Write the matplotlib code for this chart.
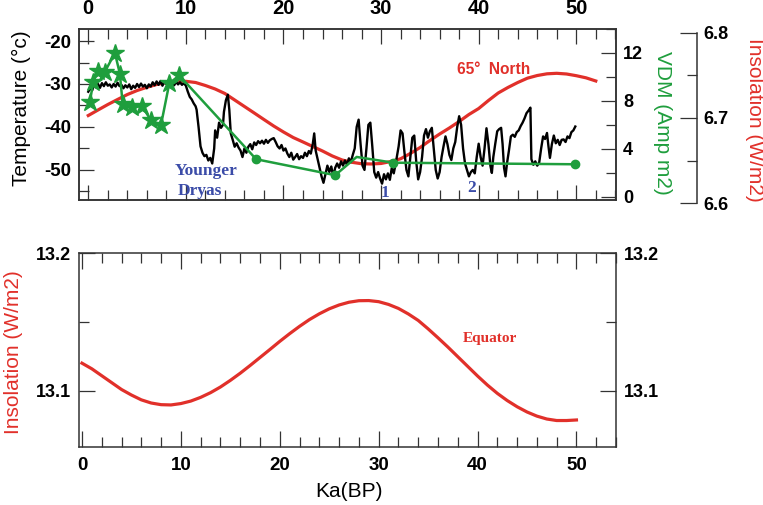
import matplotlib
matplotlib.use("Agg")
import matplotlib.pyplot as plt
import numpy as np

plt.rcParams["font.family"] = ["Liberation Sans", "DejaVu Sans"]
plt.rcParams["axes.unicode_minus"] = False

# ---- data -------------------------------------------------------------------
# ice-core temperature (ka BP, deg C)
temp_age = [
    0.0, 0.2, 0.4, 0.6, 0.8, 1.0, 1.2, 1.4, 1.6, 1.8, 2.0, 2.2, 2.4, 2.6, 2.8,
    3.0, 3.2, 3.4, 3.6, 3.8, 4.0, 4.2, 4.4, 4.6, 4.8, 5.0, 5.2, 5.4, 5.6, 5.8,
    6.0, 6.2, 6.4, 6.6, 6.8, 7.0, 7.2, 7.4, 7.6, 7.8, 8.0, 8.2, 8.4, 8.6, 8.8,
    9.0, 9.2, 9.4, 9.6, 9.8, 10.0, 10.2, 10.4, 10.6, 10.8, 11.0, 11.1, 11.3,
    11.5, 11.7, 11.9, 12.1, 12.3, 12.5, 12.7, 12.9, 13.0, 13.2, 13.4, 13.6,
    13.8, 13.9, 14.1, 14.3, 14.45, 14.6, 14.8, 15.0, 15.2, 15.4, 15.6, 15.8,
    16.0, 16.2, 16.4, 16.6, 16.8, 17.0, 17.2, 17.4, 17.6, 17.8, 18.0, 18.2,
    18.4, 18.6, 18.8, 19.0, 19.2, 19.4, 19.6, 19.8, 20.0, 20.2, 20.4, 20.6,
    20.8, 21.0, 21.2, 21.4, 21.6, 21.8, 22.0, 22.2, 22.4, 22.6, 22.8, 23.0,
    23.15, 23.3, 23.5, 23.7, 23.9, 24.1, 24.3, 24.5, 24.7, 24.9, 25.1, 25.3,
    25.5, 25.7, 25.9, 26.1, 26.3, 26.5, 26.7, 26.9, 27.1, 27.3, 27.5, 27.7,
    27.9, 28.1, 28.3, 28.5, 28.7, 28.9, 29.1, 29.3, 29.5, 29.7, 29.9, 30.1,
    30.3, 30.5, 30.7, 30.9, 31.1, 31.3, 31.5, 31.8, 32.0, 32.2, 32.4, 32.6,
    32.8, 33.0, 33.2, 33.4, 33.6, 33.8, 34.0, 34.2, 34.4, 34.6, 34.8, 35.0,
    35.2, 35.4, 35.6, 35.8, 36.0, 36.2, 36.4, 36.6, 36.8, 37.0, 37.2, 37.4,
    37.6, 37.8, 38.0, 38.2, 38.4, 38.6, 38.8, 39.0, 39.2, 39.4, 39.6, 39.8,
    40.0, 40.2, 40.4, 40.6, 40.8, 41.0, 41.2, 41.35, 41.5, 41.7, 41.9, 42.1,
    42.3, 42.45, 42.6, 42.75, 42.9, 43.1, 43.3, 43.5, 43.7, 43.9, 44.1, 44.3,
    44.5, 44.7, 44.9, 45.1, 45.3, 45.4, 45.6, 45.8, 46.0, 46.2, 46.4, 46.6,
    46.8, 47.0, 47.15, 47.3, 47.5, 47.7, 47.9, 48.1, 48.3, 48.5, 48.7, 48.9,
    49.1, 49.3, 49.5, 49.7, 49.9,
]
temp_val = [
    -31.8, -31.0, -31.5, -30.2, -30.8, -30.0, -30.9, -29.8, -30.5, -29.6,
    -30.4, -30.1, -30.8, -30.0, -30.6, -29.7, -30.5, -30.2, -31.0, -30.3,
    -30.8, -30.1, -31.2, -30.4, -30.9, -30.0, -30.7, -29.9, -30.6, -30.2,
    -31.0, -30.1, -30.6, -29.6, -30.3, -29.4, -30.2, -29.3, -30.4, -29.5,
    -30.0, -29.2, -30.1, -29.6, -30.3, -29.5, -30.1, -29.6, -30.2, -29.8,
    -30.4, -31.8, -33.0, -33.6, -34.5, -35.2, -36.0, -40.0, -44.5, -46.0,
    -46.8, -46.5, -47.8, -47.2, -48.5, -45.0, -40.8, -42.5, -39.0, -40.2,
    -39.5, -36.5, -33.8, -32.5, -36.0, -41.5, -43.0, -44.6, -43.8, -44.8,
    -45.5, -47.0, -45.0, -46.0, -44.6, -44.0, -45.2, -43.6, -44.2, -43.3,
    -43.8, -43.2, -43.9, -43.0, -43.7, -43.1, -42.8, -42.6, -43.5, -44.5,
    -45.0, -44.2, -45.5, -45.0, -46.2, -47.0, -46.0, -47.6, -47.0, -46.3,
    -47.5, -46.8, -47.2, -46.0, -46.8, -45.6, -46.2, -44.0, -41.5, -45.5,
    -47.5, -49.5, -51.5, -53.0, -51.0, -49.0, -50.5, -49.2, -51.5, -49.5,
    -48.5, -49.5, -48.0, -49.0, -47.8, -48.8, -47.3, -48.2, -46.5, -45.0,
    -40.0, -38.3, -44.0, -49.0, -50.0, -45.0, -39.5, -39.0, -44.5, -50.5,
    -51.8, -50.5, -52.0, -53.2, -51.0, -52.2, -50.8, -52.3, -49.5, -50.8,
    -48.5, -44.5, -40.8, -41.5, -46.0, -50.0, -51.5, -47.0, -42.5, -42.0,
    -48.0, -52.2, -50.5, -47.0, -42.0, -40.5, -42.5, -41.0, -40.2, -45.0,
    -50.0, -52.0, -50.5, -47.0, -44.5, -42.2, -44.0, -46.5, -47.7, -45.0,
    -43.5, -40.0, -37.5, -39.5, -45.0, -48.5, -50.0, -51.5, -50.5, -50.0,
    -50.8, -47.0, -43.9, -47.0, -49.0, -45.0, -40.3, -44.0, -49.0, -50.7,
    -47.0, -43.9, -41.0, -40.5, -40.2, -44.0, -49.5, -51.5, -48.5, -45.5,
    -42.2, -41.8, -42.3, -41.2, -40.8, -39.8, -39.0, -38.0, -36.8, -36.2,
    -35.5, -47.5, -48.8, -48.0, -49.0, -48.3, -45.0, -42.2, -42.8, -41.4,
    -44.5, -47.2, -44.0, -42.0, -43.8, -43.0, -44.2, -43.0, -42.9, -43.5,
    -42.2, -42.6, -41.2, -40.8, -39.9,
]

# virtual dipole moment: recent stars, older circles
vdm_star_age = [0.17, 0.51, 1.02, 1.71, 2.73, 3.24, 3.52, 4.45, 5.47, 6.42, 7.45, 8.3, 9.32]
vdm_star_val = [7.94, 9.6, 10.53, 10.45, 12.0, 10.26, 7.78, 7.46, 7.6, 6.4, 6.0, 9.46, 10.13]
vdm_dot_age = [17.2, 25.3, 27.5, 31.25, 49.87]
vdm_dot_val = [3.14, 1.81, 3.33, 2.85, 2.72]

# summer insolation at 65 N
ins65_age = list(range(0, 53))
ins65_val = [
    6.7029, 6.7094, 6.7158, 6.7217, 6.7275, 6.7322, 6.7360, 6.7393, 6.7416,
    6.7430, 6.7430, 6.7416, 6.7381, 6.7340, 6.7287, 6.7211, 6.7135, 6.7059,
    6.6982, 6.6906, 6.6836, 6.6771, 6.6719, 6.6666, 6.6613, 6.6555, 6.6508,
    6.6481, 6.6464, 6.6461, 6.6467, 6.6490, 6.6522, 6.6584, 6.6654, 6.6736,
    6.6812, 6.6883, 6.6959, 6.7041, 6.7111, 6.7205, 6.7293, 6.7358, 6.7416,
    6.7467, 6.7498, 6.7518, 6.7524, 6.7516, 6.7496, 6.7471, 6.7434,
]

# insolation at the equator
inseq_age = list(range(0, 51))
inseq_val = [
    13.1201, 13.1160, 13.1110, 13.1060, 13.1010, 13.0970, 13.0935, 13.0912,
    13.0900, 13.0898, 13.0908, 13.0926, 13.0953, 13.0987, 13.1028, 13.1076,
    13.1128, 13.1184, 13.1242, 13.1300, 13.1359, 13.1415, 13.1468, 13.1517,
    13.1559, 13.1595, 13.1623, 13.1643, 13.1654, 13.1655, 13.1647, 13.1627,
    13.1598, 13.1558, 13.1511, 13.1450, 13.1385, 13.1318, 13.1248, 13.1178,
    13.1108, 13.1042, 13.0982, 13.0930, 13.0885, 13.0847, 13.0817, 13.0796,
    13.0785, 13.0785, 13.0789,
]

age_ticks = [0, 10, 20, 30, 40, 50]
temp_ticks = [-50, -40, -30, -20]
vdm_ticks = [0, 4, 8, 12]
ins65_ticks = [6.6, 6.7, 6.8]
inseq_ticks = [13.1, 13.2]

# ---- styling ----------------------------------------------------------------
RED = "#e1302a"
GREEN = "#1f9e3d"
BLUE = "#3b4ca8"
SPINE = "#333333"
W, H = 763, 505

SERIF = "Liberation Serif"


def tick_font(size):
    return dict(fontsize=size, fontweight="bold")


def px_box(left, top, right, bottom):
    return [left / W, 1 - bottom / H, (right - left) / W, (bottom - top) / H]


def style_spines(a):
    for s in a.spines.values():
        s.set_color(SPINE)
        s.set_linewidth(1.1)


def tick_len(a, major, minor):
    a.tick_params(which="major", length=major, width=0.9, color=SPINE)
    a.tick_params(which="minor", length=minor, width=0.9, color=SPINE)


fig = plt.figure(figsize=(W / 100, H / 100), dpi=100)
fig.patch.set_facecolor("white")

# ---- top panel: temperature ---------------------------------------------------
ax = fig.add_axes(px_box(79, 29, 616, 200))
ax.set_zorder(2)
ax.patch.set_visible(False)
ax.plot(temp_age, temp_val, color="black", lw=1.7, zorder=3)
ax.set_xlim(-0.95, 54.07)
ax.set_ylim(-57.0, -17.2)
ax.set_xticks(age_ticks)
ax.set_xticklabels([str(t) for t in age_ticks], **tick_font(14.5))
ax.set_xticks(np.arange(0, 55, 2), minor=True)
ax.set_yticks(temp_ticks)
ax.set_yticklabels([str(t) for t in temp_ticks], **tick_font(13.5))
ax.set_yticks([-55, -45, -35, -25], minor=True)
ax.tick_params(axis="x", which="both", direction="in", top=True, bottom=True,
               labeltop=True, labelbottom=False, pad=8)
ax.tick_params(axis="y", which="both", direction="in", left=True, right=False,
               pad=5.5)
tick_len(ax, 11, 7)
style_spines(ax)

ax.text(8.85, -50.2, "Younger", color=BLUE, fontsize=12.5, fontweight="bold",
        family=SERIF, ha="left", va="center")
ax.text(9.15, -54.9, "Dryas", color=BLUE, fontsize=12.5, fontweight="bold",
        family=SERIF, ha="left", va="center")
ax.text(30.4, -55.4, "1", color=BLUE, fontsize=12.5, fontweight="bold",
        family=SERIF, ha="center", va="center")
ax.text(39.3, -54.2, "2", color=BLUE, fontsize=12.5, fontweight="bold",
        family=SERIF, ha="center", va="center")
ax.text(41.5, -26.7, "65°  North", color=RED, fontsize=11.2, fontweight="bold",
        ha="center", va="center")

# ---- top panel: VDM on the right spine ----------------------------------------
axv = ax.twinx()
axv.set_zorder(3)
axv.patch.set_visible(False)
axv.plot(vdm_star_age + [vdm_dot_age[0]], vdm_star_val + [vdm_dot_val[0]],
         color=GREEN, lw=1.8, zorder=4)
axv.plot(vdm_dot_age, vdm_dot_val, color=GREEN, lw=1.8, zorder=4)
axv.plot(vdm_star_age, vdm_star_val, ls="none", marker="*", ms=13.5,
         color=GREEN, mec=GREEN, zorder=5)
axv.plot([vdm_dot_age[i] for i in (0, 1, 3, 4)],
         [vdm_dot_val[i] for i in (0, 1, 3, 4)],
         ls="none", marker="o", ms=6, color=GREEN, zorder=5)
axv.set_ylim(-0.26, 13.95)
axv.set_yticks(vdm_ticks)
axv.set_yticklabels([str(t) for t in vdm_ticks], **tick_font(13))
axv.set_yticks([2, 6, 10, 14], minor=True)
axv.tick_params(axis="y", which="both", direction="in", right=True, left=False,
                pad=5)
tick_len(axv, 11, 7.5)
style_spines(axv)

# ---- top panel: 65 N insolation on its own offset spine -----------------------
axi = fig.add_axes(px_box(79, 32.7, 696.7, 203.3))
axi.set_zorder(1)
axi.patch.set_visible(False)
axi.plot(ins65_age, ins65_val, color=RED, lw=2.3)
axi.set_xlim(-0.95, 62.34)
axi.set_ylim(6.6, 6.8)
axi.set_xticks([])
axi.yaxis.tick_right()
axi.set_yticks(ins65_ticks)
axi.set_yticklabels([f"{t:.1f}" for t in ins65_ticks], **tick_font(13))
axi.set_yticks([6.65, 6.75], minor=True)
axi.tick_params(axis="y", which="both", direction="in", pad=5)
tick_len(axi, 12, 7.5)
for side in ("left", "top", "bottom"):
    axi.spines[side].set_visible(False)
axi.spines["right"].set_color(SPINE)
axi.spines["right"].set_linewidth(1.1)

# ---- bottom panel: equatorial insolation --------------------------------------
axb = fig.add_axes(px_box(79, 253, 616, 447))
axb.plot(inseq_age, inseq_val, color=RED, lw=2.3)
axb.set_xlim(-0.3, 54.0)
axb.set_ylim(13.0593, 13.2)
axb.set_xticks(age_ticks)
axb.set_xticklabels([str(t) for t in age_ticks], **tick_font(13.5))
axb.set_xticks(np.arange(0, 55, 2), minor=True)
axb.set_yticks(inseq_ticks)
axb.set_yticklabels([f"{t:.1f}" for t in inseq_ticks], **tick_font(13))
axb.set_yticks([13.15], minor=True)
axb.tick_params(axis="x", which="both", direction="in", top=True, bottom=True,
                pad=7)
axb.tick_params(axis="y", which="both", direction="in", left=True, right=True,
                labelleft=True, labelright=True, pad=6)
tick_len(axb, 11.5, 7.5)
style_spines(axb)
axb.text(41.26, 13.1378, "Equator", color=RED, fontsize=11, fontweight="bold",
         family=SERIF, ha="center", va="center")


# ---- axis titles ----------------------------------------------------------------
def fig_label(x, y, s, color, rot):
    fig.text(x / W, 1 - y / H, s, color=color, fontsize=15, rotation=rot,
             ha="center", va="center")


fig_label(21.7, 108.3, "Temperature (°c)", "black", 90)
fig_label(662.5, 123.3, "VDM (Amp m2)", GREEN, 270)
fig_label(754.5, 120, "Insolation (W/m2)", RED, 270)
fig_label(14, 351.7, "Insolation (W/m2)", RED, 90)
fig_label(348.8, 491.7, "Ka(BP)", "black", 0)

fig.savefig("out.png", dpi=100, facecolor="white")
